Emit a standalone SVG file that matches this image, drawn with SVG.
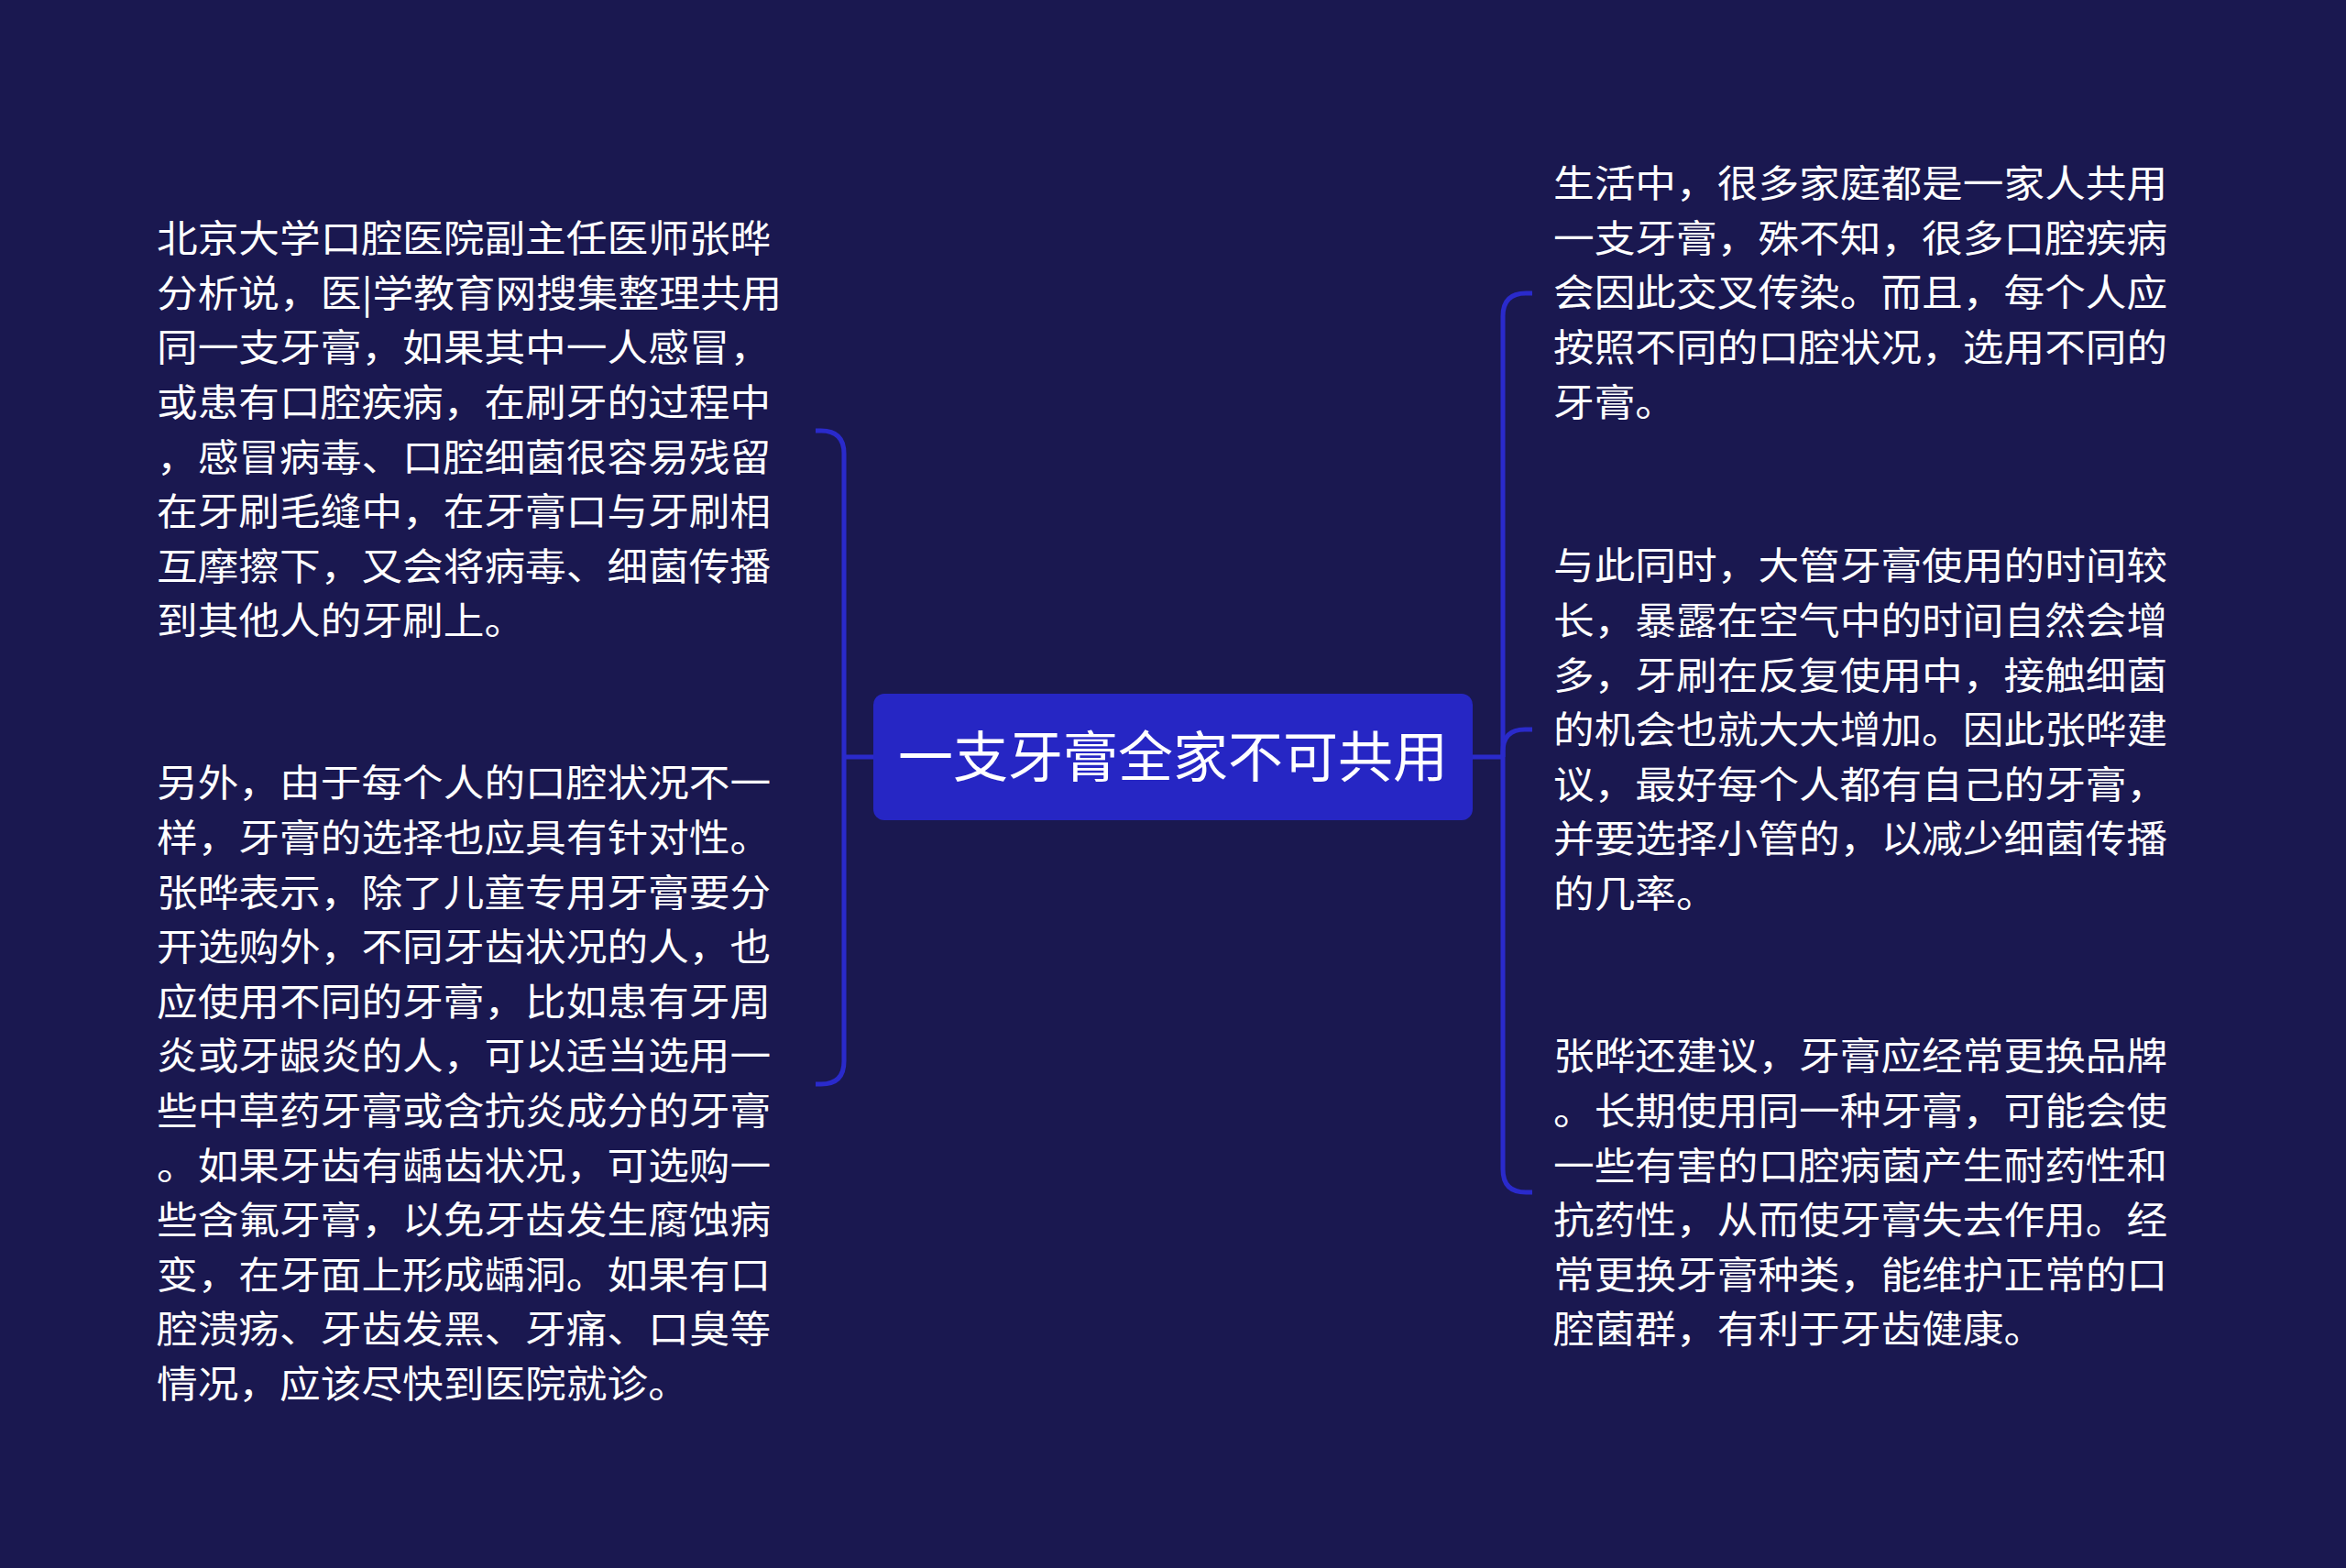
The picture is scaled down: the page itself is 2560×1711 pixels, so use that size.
<svg xmlns="http://www.w3.org/2000/svg" width="2560" height="1711" viewBox="0 0 2560 1711">
<style>
.bg{fill:#1a1850}
.conn{fill:none;stroke:#2a2acb;stroke-width:5;stroke-linecap:butt}
.root{fill:#2626c4}
.title{font-family:"Noto Sans CJK SC","Noto Sans",sans-serif;font-size:60px;fill:#ffffff;text-anchor:middle}
.body{font-family:"Noto Sans CJK SC","Noto Sans",sans-serif;font-size:41px;fill:#ffffff}
</style>
<rect class="bg" x="0" y="0" width="2560" height="1711"/>
<g id="connectors">
<path class="conn" d="M953 826 H921"/>
<path class="conn" d="M890 470 H896 Q921 470 921 495 V1158 Q921 1183 896 1183 H890"/>
<path class="conn" d="M1607 826 H1640"/>
<path class="conn" d="M1672 320 H1665 Q1640 320 1640 345 V1276 Q1640 1301 1665 1301 H1672"/>
<path class="conn" d="M1640 826 V820 Q1640 796 1664 796 H1672"/>
</g>
<g id="root">
<rect class="root" x="953" y="757" width="654" height="138" rx="12" ry="12"/>
<text class="title" x="1280" y="848">一支牙膏全家不可共用</text>
</g>
<g id="left1" transform="translate(171 0) scale(1.09 1)">
<text class="body" y="275.2">
<tspan x="0">北京大学口腔医院副主任医师张晔</tspan>
<tspan x="0" dy="59.6">分析说，医|学教育网搜集整理共用</tspan>
<tspan x="0" dy="59.6">同一支牙膏，如果其中一人感冒，</tspan>
<tspan x="0" dy="59.6">或患有口腔疾病，在刷牙的过程中</tspan>
<tspan x="0" dy="59.6">，感冒病毒、口腔细菌很容易残留</tspan>
<tspan x="0" dy="59.6">在牙刷毛缝中，在牙膏口与牙刷相</tspan>
<tspan x="0" dy="59.6">互摩擦下，又会将病毒、细菌传播</tspan>
<tspan x="0" dy="59.6">到其他人的牙刷上。</tspan>
</text>
</g>
<g id="left2" transform="translate(171 0) scale(1.09 1)">
<text class="body" y="869.5">
<tspan x="0">另外，由于每个人的口腔状况不一</tspan>
<tspan x="0" dy="59.6">样，牙膏的选择也应具有针对性。</tspan>
<tspan x="0" dy="59.6">张晔表示，除了儿童专用牙膏要分</tspan>
<tspan x="0" dy="59.6">开选购外，不同牙齿状况的人，也</tspan>
<tspan x="0" dy="59.6">应使用不同的牙膏，比如患有牙周</tspan>
<tspan x="0" dy="59.6">炎或牙龈炎的人，可以适当选用一</tspan>
<tspan x="0" dy="59.6">些中草药牙膏或含抗炎成分的牙膏</tspan>
<tspan x="0" dy="59.6">。如果牙齿有龋齿状况，可选购一</tspan>
<tspan x="0" dy="59.6">些含氟牙膏，以免牙齿发生腐蚀病</tspan>
<tspan x="0" dy="59.6">变，在牙面上形成龋洞。如果有口</tspan>
<tspan x="0" dy="59.6">腔溃疡、牙齿发黑、牙痛、口臭等</tspan>
<tspan x="0" dy="59.6">情况，应该尽快到医院就诊。</tspan>
</text>
</g>
<g id="right1" transform="translate(1695 0) scale(1.09 1)">
<text class="body" y="215.2">
<tspan x="0">生活中，很多家庭都是一家人共用</tspan>
<tspan x="0" dy="59.6">一支牙膏，殊不知，很多口腔疾病</tspan>
<tspan x="0" dy="59.6">会因此交叉传染。而且，每个人应</tspan>
<tspan x="0" dy="59.6">按照不同的口腔状况，选用不同的</tspan>
<tspan x="0" dy="59.6">牙膏。</tspan>
</text>
</g>
<g id="right2" transform="translate(1695 0) scale(1.09 1)">
<text class="body" y="632.5">
<tspan x="0">与此同时，大管牙膏使用的时间较</tspan>
<tspan x="0" dy="59.6">长，暴露在空气中的时间自然会增</tspan>
<tspan x="0" dy="59.6">多，牙刷在反复使用中，接触细菌</tspan>
<tspan x="0" dy="59.6">的机会也就大大增加。因此张晔建</tspan>
<tspan x="0" dy="59.6">议，最好每个人都有自己的牙膏，</tspan>
<tspan x="0" dy="59.6">并要选择小管的，以减少细菌传播</tspan>
<tspan x="0" dy="59.6">的几率。</tspan>
</text>
</g>
<g id="right3" transform="translate(1695 0) scale(1.09 1)">
<text class="body" y="1167.5">
<tspan x="0">张晔还建议，牙膏应经常更换品牌</tspan>
<tspan x="0" dy="59.6">。长期使用同一种牙膏，可能会使</tspan>
<tspan x="0" dy="59.6">一些有害的口腔病菌产生耐药性和</tspan>
<tspan x="0" dy="59.6">抗药性，从而使牙膏失去作用。经</tspan>
<tspan x="0" dy="59.6">常更换牙膏种类，能维护正常的口</tspan>
<tspan x="0" dy="59.6">腔菌群，有利于牙齿健康。</tspan>
</text>
</g>
</svg>
